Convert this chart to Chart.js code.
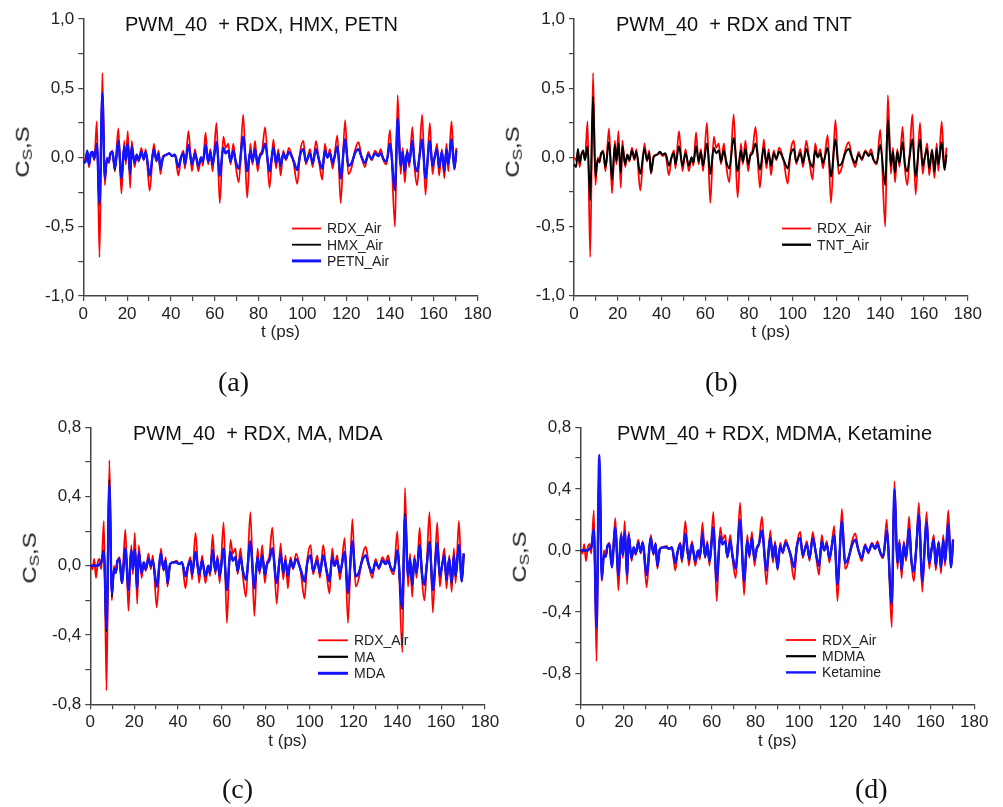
<!DOCTYPE html>
<html>
<head>
<meta charset="utf-8">
<script src="https://cdn.jsdelivr.net/npm/chart.js@4.4.0/dist/chart.umd.min.js"></script>
<style>
  body { margin: 0; background: #fff; }
  #page { position: relative; width: 1003px; height: 807px; overflow: hidden; }
  #page canvas { position: absolute; left: 0; top: 0; }
  .title { position: absolute; font: 20px "Liberation Sans", Arial, sans-serif; line-height: 20px; color: #111; white-space: pre; }
  .caption { position: absolute; font: 28px "Liberation Serif", "Times New Roman", serif; line-height: 28px; color: #111; }
  .ylab { position: absolute; font: 19px "Liberation Sans", Arial, sans-serif; line-height: 19px; color: #111; white-space: nowrap;
          transform: translate(-50%, -50%) rotate(-90deg) scaleX(1.25); }
  .ylab sub { font-size: 0.72em; vertical-align: -0.25em; }
</style>
</head>
<body>
<div id="page">
  <canvas id="chart-a" width="1003" height="807"></canvas>
  <canvas id="chart-b" width="1003" height="807"></canvas>
  <canvas id="chart-c" width="1003" height="807"></canvas>
  <canvas id="chart-d" width="1003" height="807"></canvas>

  <div class="title" style="left:125px;top:14px">PWM_40  + RDX, HMX, PETN</div>
  <div class="title" style="left:616px;top:14px">PWM_40  + RDX and TNT</div>
  <div class="title" style="left:133px;top:423px">PWM_40  + RDX, MA, MDA</div>
  <div class="title" style="left:617px;top:423px">PWM_40 + RDX, MDMA, Ketamine</div>

  <div class="ylab" style="left:25px;top:152px">C<sub>S</sub>,S</div>
  <div class="ylab" style="left:515px;top:152px">C<sub>S</sub>,S</div>
  <div class="ylab" style="left:32px;top:558px">C<sub>S</sub>,S</div>
  <div class="ylab" style="left:522px;top:557px">C<sub>S</sub>,S</div>

  <div class="caption" style="left:218px;top:368px">(a)</div>
  <div class="caption" style="left:705px;top:368px">(b)</div>
  <div class="caption" style="left:222px;top:775px">(c)</div>
  <div class="caption" style="left:855px;top:775px">(d)</div>
</div>
<script>
// --- DATA ---
const times = [
  0, 1, 1.8, 2.6, 3.4, 4.2, 5, 6.2, 7.4, 8.7,
  9.8, 10.8, 11.6, 12.4, 13.3, 14.4, 16, 17.4, 18.7, 19.4,
  20.3, 21.4, 22.1, 23.4, 24.4, 25.3, 26.5, 27.6, 28.5, 30.3,
  32.2, 33.4, 34.4, 35.2, 36.4, 38, 39.3, 40.5, 41.8, 43.4,
  44.6, 45.7, 46.4, 48, 49.6, 51, 52.5, 53.8, 54.6, 55.8,
  57, 58, 59, 60.8, 62.3, 63.9, 65, 66.2, 67.2, 68.5,
  69.6, 71, 73, 74.8, 76.3, 77.2, 78.4, 79.6, 80.6, 81.6,
  83, 85, 86.8, 88, 89, 90.1, 91.3, 92.5, 93.8, 95.9,
  97.7, 99, 100.5, 101.6, 103.5, 104.7, 106.2, 107.8, 109.1, 110.3,
  111.4, 112.6, 113.8, 116, 117.5, 119.5, 121, 122.5, 124, 125.6,
  127.1, 128.6, 130.1, 131.6, 133.2, 134.7, 135.8, 137, 138.4, 140,
  142.3, 143.5, 144.9, 145.8, 146.8, 147.8, 148.8, 150.2, 151.3, 152.4,
  153.4, 154.7, 156.2, 158.2, 159.4, 160.4, 161.5, 162.4, 163.7, 164.8,
  165.8, 166.6, 168.1, 169.4, 170.3
];

const rdxAir = [
  0, -0.02, 0.04, -0.07, 0.02, 0.04, -0.02, 0.26, -0.72, 0.61,
  -0.2, 0.0, -0.04, 0.02, 0.05, -0.1, 0.21, -0.26, 0.12, -0.05,
  0.19, -0.22, 0.12, -0.07, 0.02, -0.03, 0.07, -0.02, 0.06, -0.24,
  0.1, -0.03, 0.05, -0.12, 0.01, 0.02, 0.03, 0.01, 0.02, -0.13,
  0.0, 0.05, -0.08, 0.19, -0.1, 0.06, -0.1, 0.0, -0.06, 0.18,
  -0.05, 0.06, -0.1, 0.25, -0.33, 0.15, 0.07, 0.1, -0.05, 0.1,
  -0.06, -0.18, 0.31, -0.29, 0.1, -0.05, 0.12, -0.1, 0.02, 0.05,
  0.22, -0.22, 0.13, -0.08, 0.06, -0.13, 0.05, -0.02, 0.07, -0.03,
  -0.19, 0.04, 0.12, -0.05, 0.06, -0.07, 0.12, -0.05, -0.16, 0.1,
  0.0, 0.06, -0.08, 0.16, -0.33, 0.27, -0.12, -0.07, 0.05, 0.11,
  0.0, -0.07, 0.04, -0.02, 0.05, 0.02, 0.06, -0.02, -0.05, 0.2,
  -0.5, 0.45, -0.12, 0.07, -0.18, 0.06, -0.07, 0.22, -0.08, -0.2,
  0.0, 0.31, -0.27, 0.25, -0.12, 0.0, 0.1, -0.13, 0.06, -0.15,
  0.1, -0.1, 0.26, -0.09, 0.07
];

const hmxAir = [
  -0.03, -0.03, 0.05, -0.05, 0.03, 0.04, -0.01, 0.1, -0.34, 0.47,
  -0.15, -0.01, -0.03, 0.03, 0.04, -0.09, 0.12, -0.15, 0.08, -0.02,
  0.1, -0.12, 0.08, -0.04, 0.02, -0.02, 0.04, -0.01, 0.04, -0.13,
  0.06, -0.02, 0.03, -0.08, 0.0, 0.02, 0.03, 0.01, 0.02, -0.07,
  0.0, 0.03, -0.05, 0.09, -0.05, 0.03, -0.06, 0.0, -0.03, 0.09,
  -0.03, 0.04, -0.05, 0.11, -0.13, 0.07, 0.03, 0.05, -0.03, 0.05,
  -0.03, -0.08, 0.15, -0.1, 0.05, -0.03, 0.06, -0.05, 0.01, 0.03,
  0.1, -0.1, 0.07, -0.04, 0.03, -0.06, 0.03, -0.01, 0.04, -0.02,
  -0.09, 0.02, 0.06, -0.03, 0.03, -0.04, 0.06, -0.03, -0.08, 0.05,
  0.0, 0.03, -0.04, 0.08, -0.15, 0.13, -0.06, -0.04, 0.03, 0.06,
  0.0, -0.04, 0.02, -0.01, 0.03, 0.01, 0.03, -0.01, -0.03, 0.1,
  -0.24, 0.28, -0.06, 0.04, -0.1, 0.04, -0.04, 0.12, -0.05, -0.1,
  0.0, 0.13, -0.15, 0.12, -0.06, 0.0, 0.06, -0.07, 0.04, -0.1,
  0.06, -0.05, 0.13, -0.08, 0.05
];

const petnAir = [
  -0.04, -0.03, 0.05, -0.05, 0.03, 0.04, -0.01, 0.09, -0.33, 0.46,
  -0.15, -0.01, -0.03, 0.03, 0.04, -0.08, 0.12, -0.15, 0.08, -0.02,
  0.1, -0.12, 0.08, -0.04, 0.02, -0.02, 0.04, -0.01, 0.04, -0.13,
  0.06, -0.02, 0.03, -0.08, 0.0, 0.02, 0.03, 0.01, 0.02, -0.07,
  0.0, 0.03, -0.05, 0.09, -0.05, 0.03, -0.06, 0.0, -0.03, 0.09,
  -0.03, 0.04, -0.05, 0.11, -0.13, 0.07, 0.03, 0.05, -0.03, 0.05,
  -0.03, -0.08, 0.15, -0.1, 0.05, -0.03, 0.06, -0.05, 0.01, 0.03,
  0.1, -0.1, 0.07, -0.04, 0.03, -0.06, 0.03, -0.01, 0.04, -0.02,
  -0.09, 0.02, 0.06, -0.03, 0.03, -0.04, 0.06, -0.03, -0.08, 0.05,
  0.0, 0.03, -0.04, 0.08, -0.15, 0.13, -0.06, -0.04, 0.03, 0.06,
  0.0, -0.04, 0.02, -0.01, 0.03, 0.01, 0.03, -0.01, -0.03, 0.1,
  -0.23, 0.28, -0.06, 0.04, -0.1, 0.04, -0.04, 0.12, -0.05, -0.1,
  0.0, 0.13, -0.15, 0.12, -0.06, 0.0, 0.06, -0.07, 0.04, -0.1,
  0.06, -0.05, 0.13, -0.08, 0.05
];

const tntAir = [
  -0.05, -0.07, 0.06, -0.04, 0.02, 0.05, -0.02, 0.08, -0.31, 0.44,
  -0.14, -0.02, -0.03, 0.03, 0.04, -0.07, 0.11, -0.16, 0.09, -0.03,
  0.1, -0.11, 0.08, -0.05, 0.02, -0.02, 0.05, -0.01, 0.04, -0.12,
  0.06, -0.02, 0.03, -0.11, 0.0, 0.02, 0.04, 0.02, 0.03, -0.06,
  0.0, 0.03, -0.05, 0.08, -0.06, 0.03, -0.06, 0.0, -0.04, 0.08,
  -0.03, 0.04, -0.06, 0.1, -0.12, 0.07, 0.03, 0.05, -0.03, 0.05,
  -0.03, -0.08, 0.14, -0.1, 0.05, -0.03, 0.06, -0.05, 0.01, 0.03,
  0.1, -0.09, 0.07, -0.04, 0.03, -0.06, 0.03, -0.01, 0.04, -0.02,
  -0.08, 0.02, 0.06, -0.03, 0.03, -0.04, 0.06, -0.03, -0.07, 0.05,
  0.0, 0.03, -0.04, 0.07, -0.14, 0.13, -0.06, -0.04, 0.03, 0.06,
  0.0, -0.04, 0.02, -0.01, 0.04, 0.01, 0.03, -0.02, -0.04, 0.09,
  -0.2, 0.27, -0.06, 0.04, -0.11, 0.04, -0.04, 0.11, -0.05, -0.1,
  0.0, 0.13, -0.14, 0.13, -0.06, 0.0, 0.06, -0.08, 0.05, -0.1,
  0.06, -0.05, 0.11, -0.09, 0.02
];

const maVals = [
  0.0, 0.0, 0.0, 0.0, 0.0, 0.01, 0.02, 0.09, -0.38, 0.5,
  -0.18, -0.02, -0.04, 0.03, 0.04, -0.1, 0.1, -0.14, 0.09, -0.02,
  0.09, -0.13, 0.08, -0.04, 0.02, -0.02, 0.04, 0.0, 0.03, -0.12,
  0.07, -0.02, 0.03, -0.1, 0.01, 0.02, 0.02, 0.01, 0.02, -0.06,
  0.0, 0.03, -0.05, 0.08, -0.05, 0.03, -0.06, 0.0, -0.04, 0.09,
  -0.03, 0.04, -0.06, 0.1, -0.14, 0.08, 0.03, 0.05, -0.03, 0.05,
  -0.03, -0.08, 0.14, -0.13, 0.05, -0.03, 0.06, -0.05, 0.01, 0.03,
  0.1, -0.1, 0.07, -0.04, 0.03, -0.06, 0.03, -0.01, 0.04, -0.02,
  -0.09, 0.02, 0.06, -0.03, 0.03, -0.04, 0.06, -0.03, -0.09, 0.05,
  0.0, 0.03, -0.04, 0.08, -0.16, 0.14, -0.06, -0.04, 0.03, 0.06,
  0.0, -0.04, 0.02, -0.01, 0.03, 0.01, 0.03, -0.01, -0.03, 0.09,
  -0.25, 0.3, -0.06, 0.04, -0.11, 0.04, -0.04, 0.12, -0.05, -0.11,
  0.0, 0.14, -0.14, 0.13, -0.06, 0.0, 0.06, -0.08, 0.04, -0.1,
  0.06, -0.06, 0.12, -0.09, 0.07
];

const mdaVals = [
  0.0, 0.0, 0.0, 0.0, 0.0, 0.01, 0.02, 0.08, -0.36, 0.47,
  -0.16, -0.02, -0.04, 0.03, 0.04, -0.1, 0.1, -0.14, 0.09, -0.02,
  0.09, -0.13, 0.08, -0.04, 0.02, -0.02, 0.04, 0.0, 0.03, -0.12,
  0.07, -0.02, 0.03, -0.1, 0.01, 0.02, 0.02, 0.01, 0.02, -0.06,
  0.0, 0.03, -0.05, 0.08, -0.05, 0.03, -0.06, 0.0, -0.04, 0.09,
  -0.03, 0.04, -0.06, 0.1, -0.14, 0.08, 0.03, 0.05, -0.03, 0.05,
  -0.03, -0.08, 0.14, -0.13, 0.05, -0.03, 0.06, -0.05, 0.01, 0.03,
  0.1, -0.1, 0.07, -0.04, 0.03, -0.06, 0.03, -0.01, 0.04, -0.02,
  -0.09, 0.02, 0.06, -0.03, 0.03, -0.04, 0.06, -0.03, -0.09, 0.05,
  0.0, 0.03, -0.04, 0.08, -0.15, 0.14, -0.06, -0.04, 0.03, 0.06,
  0.0, -0.04, 0.02, -0.01, 0.03, 0.01, 0.03, -0.01, -0.03, 0.09,
  -0.24, 0.29, -0.06, 0.04, -0.11, 0.04, -0.04, 0.12, -0.05, -0.11,
  0.0, 0.13, -0.14, 0.13, -0.06, 0.0, 0.06, -0.08, 0.04, -0.1,
  0.06, -0.06, 0.12, -0.09, 0.07
];

const mdmaVals = [
  0.0, 0.0, 0.0, 0.0, 0.0, 0.01, 0.02, 0.13, -0.48, 0.6,
  -0.18, -0.03, -0.04, 0.03, 0.04, -0.1, 0.14, -0.15, 0.1, -0.03,
  0.11, -0.15, 0.1, -0.05, 0.02, -0.02, 0.05, -0.01, 0.05, -0.15,
  0.08, -0.02, 0.04, -0.1, 0.01, 0.02, 0.02, 0.01, 0.02, -0.08,
  0.0, 0.04, -0.06, 0.1, -0.06, 0.04, -0.07, 0.0, -0.04, 0.1,
  -0.04, 0.04, -0.07, 0.14, -0.19, 0.09, 0.04, 0.06, -0.04, 0.06,
  -0.04, -0.11, 0.19, -0.19, 0.06, -0.03, 0.08, -0.06, 0.01, 0.04,
  0.12, -0.12, 0.08, -0.05, 0.04, -0.11, 0.03, -0.01, 0.05, -0.02,
  -0.1, 0.03, 0.08, -0.03, 0.04, -0.05, 0.08, -0.03, -0.1, 0.06,
  0.0, 0.04, -0.05, 0.1, -0.21, 0.18, -0.08, -0.05, 0.03, 0.07,
  0.0, -0.05, 0.03, -0.01, 0.04, 0.01, 0.04, -0.01, -0.04, 0.12,
  -0.34, 0.39, -0.08, 0.05, -0.13, 0.04, -0.05, 0.14, -0.07, -0.13,
  0.0, 0.22, -0.19, 0.18, -0.08, 0.0, 0.07, -0.1, 0.05, -0.11,
  0.07, -0.07, 0.16, -0.11, 0.07
];

const ketamineVals = [
  0.0, 0.0, 0.0, 0.0, 0.0, 0.01, 0.02, 0.14, -0.5, 0.62,
  -0.19, -0.03, -0.04, 0.03, 0.04, -0.11, 0.15, -0.16, 0.1, -0.03,
  0.12, -0.16, 0.1, -0.05, 0.02, -0.02, 0.05, -0.01, 0.05, -0.16,
  0.08, -0.02, 0.04, -0.1, 0.01, 0.02, 0.02, 0.01, 0.02, -0.08,
  0.0, 0.04, -0.06, 0.11, -0.06, 0.04, -0.07, 0.0, -0.04, 0.11,
  -0.04, 0.04, -0.07, 0.15, -0.2, 0.09, 0.04, 0.06, -0.04, 0.06,
  -0.04, -0.12, 0.2, -0.2, 0.06, -0.03, 0.08, -0.06, 0.01, 0.04,
  0.13, -0.13, 0.08, -0.05, 0.04, -0.12, 0.03, -0.01, 0.05, -0.02,
  -0.11, 0.03, 0.08, -0.03, 0.04, -0.05, 0.08, -0.03, -0.1, 0.06,
  0.0, 0.04, -0.05, 0.1, -0.22, 0.19, -0.08, -0.05, 0.03, 0.07,
  0.0, -0.05, 0.03, -0.01, 0.04, 0.01, 0.04, -0.01, -0.04, 0.13,
  -0.35, 0.4, -0.08, 0.05, -0.13, 0.04, -0.05, 0.14, -0.07, -0.14,
  0.0, 0.23, -0.2, 0.18, -0.08, 0.0, 0.07, -0.1, 0.05, -0.11,
  0.07, -0.07, 0.17, -0.11, 0.07
];

// ticks
const xTicks = [0, 10, 20, 30, 40, 50, 60, 70, 80, 90, 100, 110, 120, 130, 140, 150, 160, 170, 180];
const xTickLabels = [0, 20, 40, 60, 80, 100, 120, 140, 160, 180];
const yTicksAB = [-1, -0.75, -0.5, -0.25, 0, 0.25, 0.5, 0.75, 1];
const yLabelsAB = [-1, -0.5, 0, 0.5, 1];
const yTicksC = [-0.8, -0.6, -0.4, -0.2, 0, 0.2, 0.4, 0.6, 0.8];
const yTicksD = [-1, -0.8, -0.6, -0.4, -0.2, 0, 0.2, 0.4, 0.6, 0.8];
const yLabelsCD = [-0.8, -0.4, 0, 0.4, 0.8];

// --- HELPERS ---
const FONT = '"Liberation Sans", Arial, sans-serif';
const AXIS_COLOR = '#444';

function toPoints(vals) {
  return times.map((t, i) => ({ x: t, y: vals[i] }));
}

function hasValue(list, v) {
  return list.some(l => Math.abs(l - v) < 1e-6);
}

// legend drawn inside the plot area, like the original
const insideLegend = {
  id: 'insideLegend',
  afterDraw(chart, args, opts) {
    const ctx = chart.ctx;
    ctx.save();
    ctx.font = '14px ' + FONT;
    ctx.textBaseline = 'middle';
    ctx.fillStyle = '#222';
    chart.data.datasets.forEach((ds, i) => {
      const y = opts.y + i * opts.dy;
      ctx.strokeStyle = ds.borderColor;
      ctx.lineWidth = ds.legendWidth || ds.borderWidth;
      ctx.beginPath();
      ctx.moveTo(opts.x, y);
      ctx.lineTo(opts.x + opts.len, y);
      ctx.stroke();
      ctx.fillText(ds.label, opts.x + opts.len + 6, y + 1);
    });
    ctx.restore();
  }
};

const Y_WIDTH = 60, X_HEIGHT = 47, W = 1003, H = 807;

function makePanel(canvasId, area, yMin, yMax, yTicks, yLabels, series, legend) {
  new Chart(document.getElementById(canvasId), {
    type: 'line',
    data: {
      datasets: series.map(s => ({
        label: s.label,
        data: toPoints(s.vals),
        borderColor: s.color,
        borderWidth: s.width,
        legendWidth: s.legendWidth,
        order: s.order,
        pointRadius: 0,
        fill: false,
        cubicInterpolationMode: 'monotone'
      }))
    },
    options: {
      responsive: false,
      animation: false,
      events: [],
      layout: {
        padding: {
          left: area.left - Y_WIDTH,
          right: W - area.right,
          top: area.top,
          bottom: H - area.bottom - X_HEIGHT
        }
      },
      plugins: {
        legend: { display: false },
        tooltip: { enabled: false },
        insideLegend: legend
      },
      scales: {
        x: {
          type: 'linear',
          min: 0, max: 180,
          afterBuildTicks: sc => { sc.ticks = xTicks.map(v => ({ value: v })); },
          afterFit: sc => { sc.height = X_HEIGHT; },
          ticks: {
            autoSkip: false, maxRotation: 0, padding: 3,
            color: '#222', font: { family: FONT, size: 17 },
            callback: v => hasValue(xTickLabels, v) ? String(v) : ''
          },
          grid: { drawOnChartArea: false, tickLength: 5, color: AXIS_COLOR, lineWidth: 1.2 },
          border: { color: AXIS_COLOR, width: 1.5 },
          title: { display: true, text: 't (ps)', color: '#222', font: { family: FONT, size: 17 }, padding: 0 }
        },
        y: {
          type: 'linear',
          min: yMin, max: yMax,
          afterBuildTicks: sc => { sc.ticks = yTicks.map(v => ({ value: v })); },
          afterFit: sc => { sc.width = Y_WIDTH; },
          ticks: {
            autoSkip: false, padding: 4,
            color: '#222', font: { family: FONT, size: 17 },
            callback: v => hasValue(yLabels, v) ? v.toFixed(1).replace('.', ',') : ''
          },
          grid: { drawOnChartArea: false, tickLength: 5, color: AXIS_COLOR, lineWidth: 1.2 },
          border: { color: AXIS_COLOR, width: 1.5 }
        }
      }
    },
    plugins: [insideLegend]
  });
}

const RED = '#ff0000', BLACK = '#000000', BLUE = '#1414ff';

makePanel('chart-a', { left: 83.3, right: 477.6, top: 19, bottom: 296 }, -1, 1, yTicksAB, yLabelsAB, [
  { label: 'RDX_Air', vals: rdxAir, color: RED, width: 1.8, order: 3 },
  { label: 'HMX_Air', vals: hmxAir, color: BLACK, width: 1.8, order: 2 },
  { label: 'PETN_Air', vals: petnAir, color: BLUE, width: 2.4, legendWidth: 3, order: 1 }
], { x: 292, y: 228.5, dy: 16.2, len: 29 });

makePanel('chart-b', { left: 574, right: 967.7, top: 19, bottom: 295.7 }, -1, 1, yTicksAB, yLabelsAB, [
  { label: 'RDX_Air', vals: rdxAir, color: RED, width: 1.8, order: 2 },
  { label: 'TNT_Air', vals: tntAir, color: BLACK, width: 2, legendWidth: 2.4, order: 1 }
], { x: 782, y: 228.5, dy: 16.2, len: 29 });

makePanel('chart-c', { left: 90.3, right: 485, top: 427.3, bottom: 704.3 }, -0.8, 0.8, yTicksC, yLabelsCD, [
  { label: 'RDX_Air', vals: rdxAir, color: RED, width: 1.8, order: 3 },
  { label: 'MA', vals: maVals, color: BLACK, width: 2, legendWidth: 2.2, order: 2 },
  { label: 'MDA', vals: mdaVals, color: BLUE, width: 2.4, legendWidth: 3, order: 1 }
], { x: 318, y: 640.3, dy: 16.5, len: 30 });

makePanel('chart-d', { left: 580.3, right: 974.3, top: 427.3, bottom: 704.3 }, -1, 0.8, yTicksD, yLabelsCD, [
  { label: 'RDX_Air', vals: rdxAir, color: RED, width: 1.8, order: 3 },
  { label: 'MDMA', vals: mdmaVals, color: BLACK, width: 2, legendWidth: 2.2, order: 2 },
  { label: 'Ketamine', vals: ketamineVals, color: BLUE, width: 2.4, legendWidth: 2.4, order: 1 }
], { x: 786, y: 640, dy: 16.2, len: 30 });
</script>
</body>
</html>
